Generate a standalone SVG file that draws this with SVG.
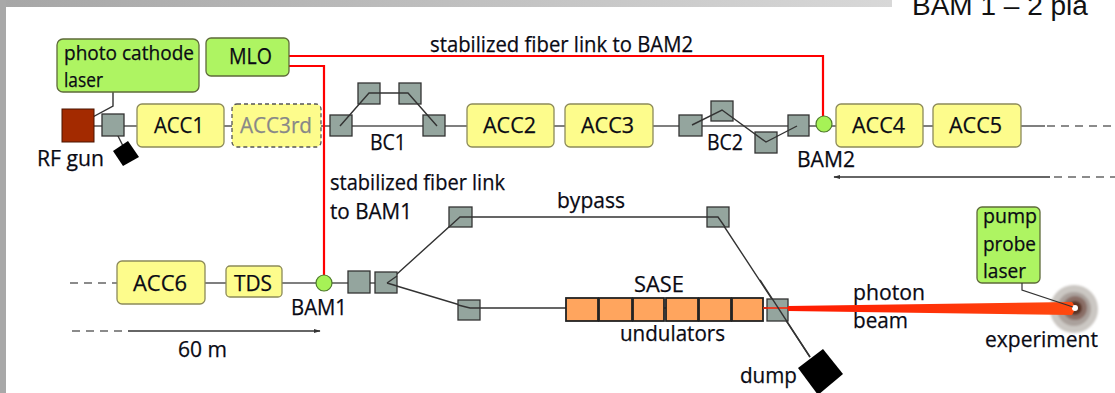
<svg xmlns="http://www.w3.org/2000/svg" width="1115" height="393" viewBox="0 0 1115 393">
  <style>
    text { font-family: "Open Sans", "Noto Sans", "Liberation Sans", sans-serif; font-size: 21.5px; font-weight: 500; fill: #0a0a14; stroke: #0a0a14; stroke-width: 0.25px; }
    .acc { fill: #fdfc8c; stroke: #8c8a5a; stroke-width: 1.3; }
    .las { fill: #aef462; stroke: #5e6a3a; stroke-width: 1.3; }
    .mag { fill: #94a59e; stroke: #333; stroke-width: 1.3; }
    .bam { fill: #a6f256; stroke: #4f7a2c; stroke-width: 1.2; }
    .beam { stroke: #555; stroke-width: 1.6; fill: none; }
    .path { stroke: #333; stroke-width: 1.4; fill: none; }
    .dash { stroke: #666; stroke-width: 1.6; stroke-dasharray: 8 6; fill: none; }
    .fiber { stroke: #ff0000; stroke-width: 2.2; fill: none; }
    .und { fill: #ffa55e; stroke: #222; stroke-width: 1.8; }
    .small { font-size: 19.5px; }
    .mid { font-size: 20px; }
    .grey { fill: #888; stroke: #888; }
  </style>
  <defs>
    <linearGradient id="topbar" x1="0" x2="1" y1="0" y2="0">
      <stop offset="0" stop-color="#a6a6a6"/>
      <stop offset="1" stop-color="#d8d8d8"/>
    </linearGradient>
    <linearGradient id="photon" x1="0" x2="1" y1="0" y2="0">
      <stop offset="0" stop-color="#ff1a00"/>
      <stop offset="1" stop-color="#ff4a10"/>
    </linearGradient>
    <filter id="soft" x="-30%" y="-30%" width="160%" height="160%">
      <feGaussianBlur stdDeviation="1.3"/>
    </filter>
    <marker id="arrow" viewBox="0 0 10 10" refX="9" refY="5" markerWidth="7" markerHeight="7" orient="auto-start-reverse" markerUnits="userSpaceOnUse">
      <path d="M0,2 L10,5 L0,8 z" fill="#333"/>
    </marker>
  </defs>

  <!-- page frame -->
  <rect x="0" y="0" width="1115" height="393" fill="#fff"/>
  <rect x="0" y="0" width="892" height="7" fill="url(#topbar)"/>
  <rect x="0" y="0" width="6" height="393" fill="#a8a8a8"/>
  <text x="912" y="15" style="font-family:'Liberation Sans','DejaVu Sans',sans-serif;font-size:28px;font-weight:400;stroke:none;fill:#111">BAM 1 – 2 pla</text>

  <!-- connectors: beamlines, chicanes, fibres, scales -->
  <g id="connectors">
    <!-- upper beamline -->
    <line class="beam" x1="76" y1="126" x2="1045" y2="126"/>
    <line class="dash" x1="1047" y1="126" x2="1115" y2="126"/>
    <!-- return direction arrow -->
    <line class="path" x1="1050" y1="177" x2="834" y2="177" marker-end="url(#arrow)" style="stroke-width:1.3"/>
    <line class="dash" x1="1054" y1="177" x2="1115" y2="177"/>
    <!-- gun dump and laser -->
    <line class="path" x1="113" y1="126" x2="126" y2="152"/>
    <polyline class="path" points="113,92 113,106 76,126"/>
    <!-- lower beamline -->
    <line class="dash" x1="70" y1="283" x2="117" y2="283"/>
    <line class="beam" x1="205" y1="283" x2="387" y2="283"/>
    <polyline class="path" points="387,283 460,217 718,217 810,357"/>
    <polyline class="path" points="390,284 470,308 767,308"/>
    <!-- distance scale -->
    <line class="dash" x1="72" y1="331" x2="128" y2="331"/>
    <line class="path" x1="128" y1="331" x2="320" y2="331" marker-end="url(#arrow)" style="stroke-width:1.3"/>
    <!-- stabilized fibre links -->
    <polyline class="fiber" points="289,56 823,56 823,116"/>
    <polyline class="fiber" points="289,66 324,66 324,275"/>
  </g>

  <!-- injector -->
  <g id="rf-gun">
    <rect x="62" y="109" width="32" height="33" fill="#a32a00" stroke="#4a1500" stroke-width="1"/>
    <text x="37" y="166" textLength="67" lengthAdjust="spacingAndGlyphs">RF gun</text>
  </g>
  <g id="photo-cathode-laser">
    <rect class="las" x="57" y="39" width="142" height="53" rx="6"/>
    <text class="mid" x="64" y="60" textLength="130" lengthAdjust="spacingAndGlyphs">photo cathode</text>
    <text class="mid" x="64" y="87" textLength="39" lengthAdjust="spacingAndGlyphs">laser</text>
  </g>
  <g id="mlo">
    <rect class="las" x="206" y="38" width="83" height="38" rx="5"/>
    <text x="229" y="64" textLength="43" lengthAdjust="spacingAndGlyphs">MLO</text>
  </g>
  <g id="gun-dump">
    <rect class="mag" x="102" y="114" width="22" height="22"/>
    <polygon points="128,141 139,157 123,166 113,151" fill="#000"/>
  </g>
  <g id="acc1">
    <rect class="acc" x="137" y="104" width="87" height="43" rx="5"/>
    <text x="154" y="133" textLength="50" lengthAdjust="spacingAndGlyphs">ACC1</text>
  </g>
  <g id="acc3rd">
    <rect class="acc" x="232" y="104" width="89" height="43" rx="5" style="stroke-dasharray:4 3;stroke:#555"/>
    <text class="grey" x="240" y="133" textLength="72" lengthAdjust="spacingAndGlyphs">ACC3rd</text>
  </g>

  <!-- bunch compressor 1 -->
  <g id="bc1">
    <rect class="mag" x="330" y="115" width="22" height="21"/>
    <rect class="mag" x="358" y="83" width="22" height="21"/>
    <rect class="mag" x="399" y="83" width="22" height="21"/>
    <rect class="mag" x="423" y="115" width="22" height="21"/>
    <polyline class="path" points="340,126 369,93 408,93 437,126"/>
    <text x="370" y="150" textLength="36" lengthAdjust="spacingAndGlyphs">BC1</text>
  </g>
  <g id="acc2">
    <rect class="acc" x="467" y="104" width="87" height="43" rx="5"/>
    <text x="483" y="133" textLength="53" lengthAdjust="spacingAndGlyphs">ACC2</text>
  </g>
  <g id="acc3">
    <rect class="acc" x="565" y="104" width="88" height="43" rx="5"/>
    <text x="581" y="133" textLength="53" lengthAdjust="spacingAndGlyphs">ACC3</text>
  </g>

  <!-- bunch compressor 2 -->
  <g id="bc2">
    <rect class="mag" x="679" y="115" width="23" height="21"/>
    <rect class="mag" x="711" y="101" width="22" height="20"/>
    <rect class="mag" x="755" y="132" width="22" height="21"/>
    <rect class="mag" x="788" y="115" width="21" height="21"/>
    <polyline class="path" points="692,125 722,110 766,142 797,126"/>
    <text x="707" y="150" textLength="36" lengthAdjust="spacingAndGlyphs">BC2</text>
  </g>
  <g id="bam2">
    <circle class="bam" cx="824" cy="124" r="8"/>
    <text x="797" y="167" textLength="58" lengthAdjust="spacingAndGlyphs">BAM2</text>
  </g>
  <g id="acc4">
    <rect class="acc" x="836" y="104" width="87" height="43" rx="5"/>
    <text x="852" y="133" textLength="53" lengthAdjust="spacingAndGlyphs">ACC4</text>
  </g>
  <g id="acc5">
    <rect class="acc" x="933" y="104" width="88" height="43" rx="5"/>
    <text x="949" y="133" textLength="53" lengthAdjust="spacingAndGlyphs">ACC5</text>
  </g>

  <!-- fibre link labels -->
  <g id="fiber-labels">
    <text x="430" y="52" textLength="263" lengthAdjust="spacingAndGlyphs">stabilized fiber link to BAM2</text>
    <text x="330" y="190" textLength="175" lengthAdjust="spacingAndGlyphs">stabilized fiber link</text>
    <text x="330" y="219" textLength="82" lengthAdjust="spacingAndGlyphs">to BAM1</text>
  </g>

  <!-- lower section -->
  <g id="acc6">
    <rect class="acc" x="117" y="261" width="88" height="43" rx="5"/>
    <text x="133" y="291" textLength="54" lengthAdjust="spacingAndGlyphs">ACC6</text>
  </g>
  <g id="tds">
    <rect class="acc" x="226" y="266" width="56" height="31" rx="4"/>
    <text x="234" y="291" textLength="38" lengthAdjust="spacingAndGlyphs">TDS</text>
  </g>
  <g id="bam1">
    <circle class="bam" cx="324" cy="283" r="8"/>
    <text x="291" y="315" textLength="56" lengthAdjust="spacingAndGlyphs">BAM1</text>
  </g>
  <g id="scale-label">
    <text x="178" y="357" textLength="49" lengthAdjust="spacingAndGlyphs">60 m</text>
  </g>
  <g id="switchyard">
    <rect class="mag" x="348" y="271" width="22" height="22"/>
    <rect class="mag" x="375" y="272" width="22" height="21"/>
    <polyline class="path" points="387,283 397,276"/>
    <polyline class="path" points="387,283 397,286"/>
  </g>
  <g id="bypass">
    <rect class="mag" x="449" y="207" width="23" height="20"/>
    <rect class="mag" x="707" y="207" width="22" height="20"/>
    <polyline class="path" points="449,227 460,217 472,217"/>
    <polyline class="path" points="707,217 718,217 725,227"/>
    <text x="557" y="208" textLength="68" lengthAdjust="spacingAndGlyphs">bypass</text>
  </g>
  <g id="sase-undulators">
    <rect class="mag" x="458" y="300" width="22" height="20"/>
    <polyline class="path" points="458,305 470,308 480,308"/>
    <rect class="und" x="566" y="298" width="32" height="23"/>
    <rect class="und" x="599" y="298" width="33" height="23"/>
    <rect class="und" x="633" y="298" width="31" height="23"/>
    <rect class="und" x="666" y="298" width="32" height="23"/>
    <rect class="und" x="699" y="298" width="32" height="23"/>
    <rect class="und" x="732" y="298" width="31" height="23"/>
    <text x="634" y="292" textLength="50" lengthAdjust="spacingAndGlyphs">SASE</text>
    <text x="620" y="341" textLength="105" lengthAdjust="spacingAndGlyphs">undulators</text>
  </g>
  <g id="dump">
    <rect class="mag" x="767" y="299" width="21" height="22"/>
    <line x1="763" y1="308" x2="790" y2="308" stroke="#ff2000" stroke-width="1.5"/>
    <line class="path" x1="760" y1="280" x2="810" y2="357"/>
    <polygon points="823,349 843,374 818,395 798,368" fill="#000"/>
    <text x="740" y="383" textLength="57" lengthAdjust="spacingAndGlyphs">dump</text>
  </g>
  <g id="photon-beam-label">
    <text x="853" y="300" textLength="72" lengthAdjust="spacingAndGlyphs">photon</text>
    <text x="853" y="328" textLength="55" lengthAdjust="spacingAndGlyphs">beam</text>
  </g>
  <g id="pump-probe-laser">
    <rect class="las" x="977" y="207" width="63" height="76" rx="5"/>
    <text class="small" x="983" y="223" textLength="54" lengthAdjust="spacingAndGlyphs">pump</text>
    <text class="small" x="983" y="251" textLength="53" lengthAdjust="spacingAndGlyphs">probe</text>
    <text class="small" x="983" y="278" textLength="43" lengthAdjust="spacingAndGlyphs">laser</text>
  </g>
  <g id="experiment">
    <!-- target halo -->
    <g filter="url(#soft)">
      <circle cx="1074" cy="309" r="24" fill="#cbc7c3"/>
      <circle cx="1074" cy="309" r="17" fill="#aaa19c"/>
      <circle cx="1075" cy="308" r="12" fill="#8a6e66"/>
      <circle cx="1075" cy="308" r="7" fill="#5a3426"/>
    </g>
    <!-- photon beam -->
    <polygon points="788,306 1072,302 1076,308 1072,315 788,311" fill="url(#photon)"/>
    <circle cx="1075" cy="308" r="3" fill="#fff"/>
    <polyline class="path" points="1022,283 1022,290 1073,307" style="stroke-width:1.2"/>
    <text x="985" y="347" textLength="113" lengthAdjust="spacingAndGlyphs">experiment</text>
  </g>
</svg>
